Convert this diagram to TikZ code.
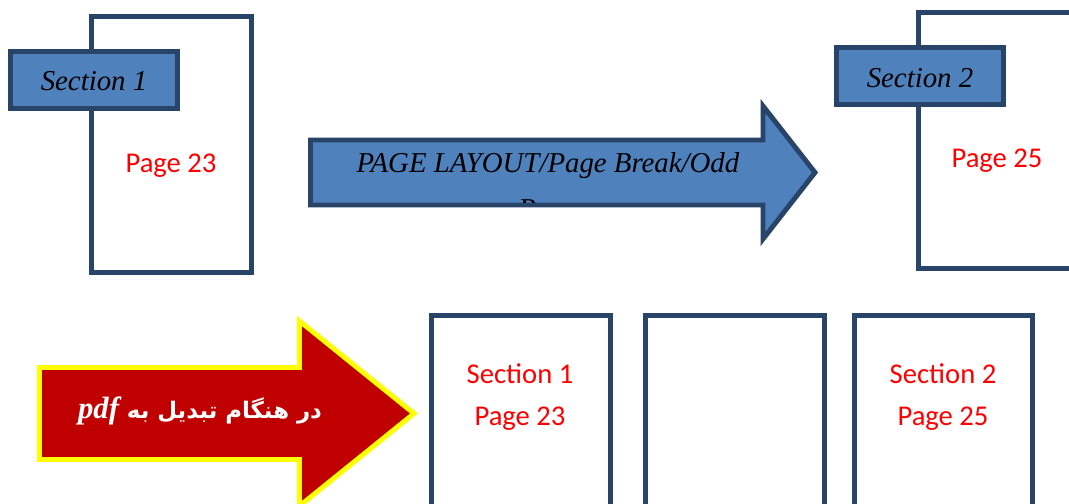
\documentclass[tikz,border=0pt]{standalone}
\usepackage{fontspec}
\setmainfont{Liberation Serif}
\newfontfamily\calibri{Carlito}
\newfontfamily\persian[Script=Arabic]{DejaVu Sans}
\TeXXeTstate=1
\definecolor{cNavy}{HTML}{284468}
\definecolor{cBlue}{HTML}{4F81BD}
\definecolor{cRed}{HTML}{C00000}
\definecolor{cYellow}{HTML}{FFFF00}
\definecolor{cText}{HTML}{FF0000}

\begin{document}
\begin{tikzpicture}[x=0.02cm, y=-0.02cm,
		sheet/.style={draw=cNavy, line width=2.8pt, fill=white},
		tab/.style={draw=cNavy, line width=2.8pt, fill=cBlue},
		tabtext/.style={anchor=base, inner sep=0pt, font=\fontsize{16.4}{20}\selectfont\itshape},
		pagetext/.style={anchor=base, inner sep=0pt, text=cText, font=\calibri\fontsize{16.3}{20}\selectfont}]
		\useasboundingbox (0,0) rectangle (1069,504);
		\clip (0,0) rectangle (1069,504);
		% top row: section break on an odd page
		\draw [sheet] (91.5,16.5) rectangle (251.5,272.5);
		\draw [tab] (10.5,51.5) rectangle (177.5,108.5);
		\node [tabtext] (sec1) at (94,90) {Section 1};
		\node [pagetext] (pg23) at (171,172) {Page 23};
		\draw [tab, line join=miter] (310.5,140) -- (763,140) -- (763,106) -- (815,172.5) -- (763,239) -- (763,205) -- (310.5,205) -- cycle;
		\begin{scope}
			\clip (313,142.5) rectangle (760,202);
			\node [tabtext] (cmd) at (548,172) {PAGE LAYOUT/Page Break/Odd};
			\node [tabtext] (cmdcut) at (548,218) {Page};
		\end{scope}
		\draw [sheet] (918.5,12.5) rectangle (1085,268.5);
		\draw [tab] (836.5,47.5) rectangle (1003.5,104.5);
		\node [tabtext] (sec2) at (920,87) {Section 2};
		\node [pagetext] (pg25) at (997,167) {Page 25};
		% bottom row: what the pdf gets
		\draw [line width=2.8pt, draw=cYellow, fill=cRed, line join=miter] (39.5,367.5) -- (299.5,367.5) -- (299.5,321) -- (414,413.5) -- (299.5,506) -- (299.5,459.5) -- (39.5,459.5) -- cycle;
		\node [anchor=base, inner sep=0pt, text=white] (topdf) at (200,418) {\persian\bfseries\fontsize{13}{16}\selectfont\beginR در هنگام تبدیل به \beginL{\rmfamily\bfseries\itshape\fontsize{17.5}{20}\selectfont pdf}\endL\endR};
		\draw [sheet] (431.5,315.5) rectangle (610.5,515);
		\draw [sheet] (645.5,315.5) rectangle (824.5,515);
		\draw [sheet] (854.5,315.5) rectangle (1032.5,515);
		\node [pagetext] (sec1b) at (520,383) {Section 1};
		\node [pagetext] (pg23b) at (520,425) {Page 23};
		\node [pagetext] (sec2b) at (943,383) {Section 2};
		\node [pagetext] (pg25b) at (943,425) {Page 25};
\end{tikzpicture}
\end{document}
